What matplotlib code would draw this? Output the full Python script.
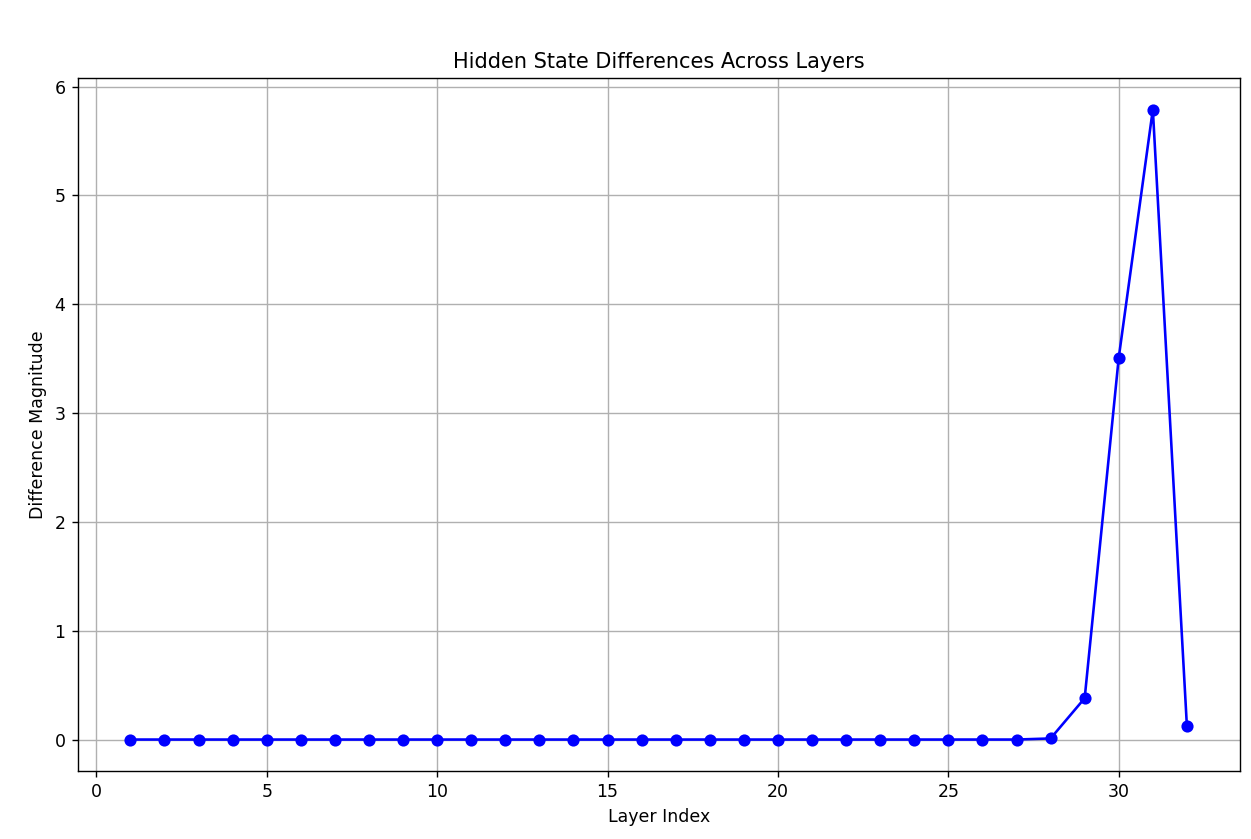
import matplotlib
matplotlib.use("Agg")
import matplotlib.pyplot as plt

# layer indices and difference magnitudes
layers = list(range(1, 33))
diffs = [0.0] * 27 + [0.01, 0.38, 3.51, 5.79, 0.12]

fig = plt.figure(figsize=(10.008, 6.712), dpi=125)
ax = fig.add_axes([0.062, 0.081, 0.929, 0.826])
ax.plot(layers, diffs, marker='o', color='blue')
ax.set_title('Hidden State Differences Across Layers')
ax.set_xlabel('Layer Index')
ax.set_ylabel('Difference Magnitude')
ax.grid(True)

fig.savefig('out.png')
